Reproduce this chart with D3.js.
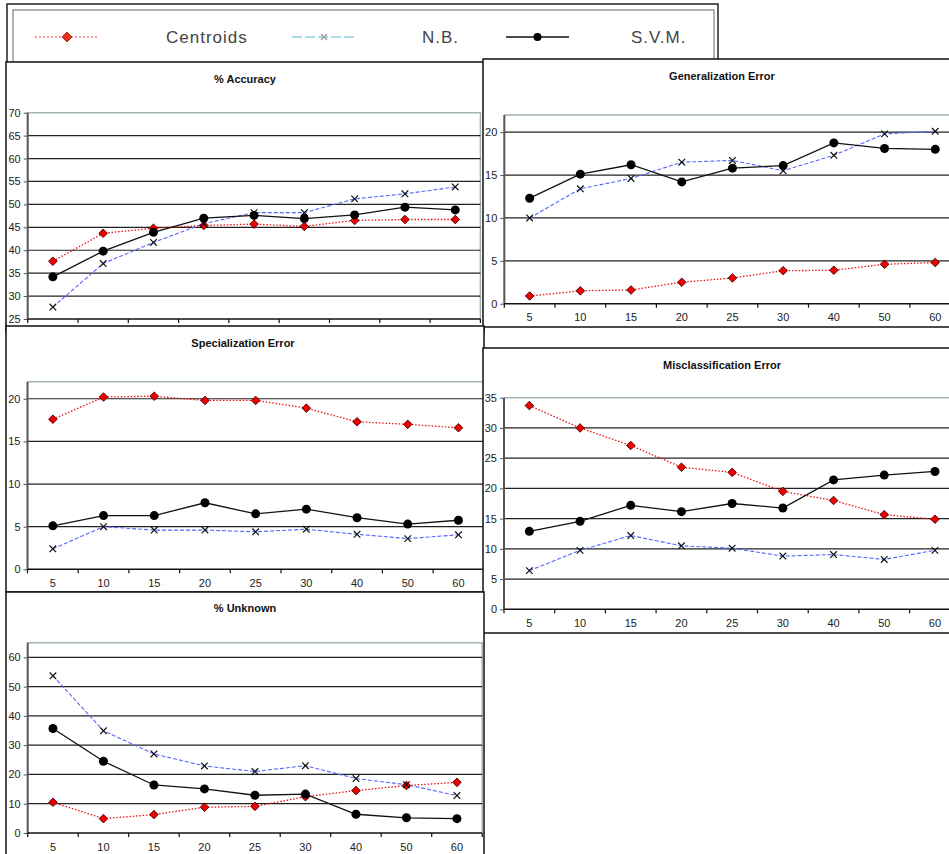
<!DOCTYPE html>
<html>
<head>
<meta charset="utf-8">
<script src="https://cdn.jsdelivr.net/npm/d3@7"></script>
<style>
body { margin: 0; background: #fff; }
svg { display: block; font-family: "Liberation Sans", Arial, sans-serif; }
</style>
</head>
<body>
<div id="chart"></div>
<script>
// categories along the x axis (same for every panel)
var categories = ["5", "10", "15", "20", "25", "30", "40", "50", "60"];
var seriesNames = ["Centroids", "N.B.", "S.V.M."];

// % Accuracy
var accuracyCentroids = [37.6, 43.7, 44.8, 45.4, 45.7, 45.2, 46.5, 46.7, 46.7];
var accuracyNB        = [27.6, 37.1, 41.7, 45.8, 48.2, 48.2, 51.2, 52.3, 53.8];
var accuracySVM       = [34.2, 39.8, 43.9, 47.0, 47.6, 46.9, 47.7, 49.4, 48.8];
var accuracyTicks     = [25, 30, 35, 40, 45, 50, 55, 60, 65, 70];

// Generalization Error
var generalCentroids = [0.9, 1.5, 1.6, 2.5, 3.0, 3.85, 3.9, 4.6, 4.8];
var generalNB        = [10.0, 13.4, 14.6, 16.5, 16.7, 15.5, 17.3, 19.8, 20.1];
var generalSVM       = [12.3, 15.1, 16.2, 14.2, 15.8, 16.1, 18.75, 18.1, 18.0];
var generalTicks     = [0, 5, 10, 15, 20];

// Specialization Error
var specialCentroids = [17.6, 20.2, 20.3, 19.8, 19.8, 18.9, 17.3, 17.0, 16.6];
var specialNB        = [2.4, 5.0, 4.6, 4.6, 4.4, 4.7, 4.1, 3.6, 4.05];
var specialSVM       = [5.1, 6.3, 6.3, 7.8, 6.5, 7.05, 6.05, 5.3, 5.75];
var specialTicks     = [0, 5, 10, 15, 20];

// Misclassification Error
var misclassCentroids = [33.7, 30.0, 27.1, 23.5, 22.65, 19.5, 18.0, 15.65, 14.9];
var misclassNB        = [6.4, 9.75, 12.2, 10.5, 10.1, 8.8, 9.05, 8.25, 9.75];
var misclassSVM       = [12.9, 14.55, 17.2, 16.15, 17.5, 16.75, 21.4, 22.2, 22.8];
var misclassTicks     = [0, 5, 10, 15, 20, 25, 30, 35];

// % Unknown
var unknownCentroids = [10.5, 4.9, 6.3, 8.8, 9.1, 12.4, 14.5, 16.2, 17.3];
var unknownNB        = [53.7, 34.9, 27.0, 22.9, 21.0, 23.0, 18.6, 16.5, 12.8];
var unknownSVM       = [35.7, 24.5, 16.4, 15.05, 12.9, 13.3, 6.4, 5.2, 4.9];
var unknownTicks     = [0, 10, 20, 30, 40, 50, 60];

var svg = d3.select("#chart")
.append("svg")
.attr("width", 949)
.attr("height", 854);

function diamond(g, cx, cy, s, fill, stroke) {
    g.append("path")
    .attr("d", "M" + cx + "," + (cy - s) + "L" + (cx + s) + "," + cy + "L" + cx + "," + (cy + s) + "L" + (cx - s) + "," + cy + "Z")
    .attr("fill", fill)
    .attr("stroke", stroke)
    .attr("stroke-width", 0.9);
}

function cross(g, cx, cy, s, stroke) {
    g.append("path")
    .attr("d", "M" + (cx - s) + "," + (cy - s) + "L" + (cx + s) + "," + (cy + s) + "M" + (cx - s) + "," + (cy + s) + "L" + (cx + s) + "," + (cy - s))
    .attr("stroke", stroke)
    .attr("stroke-width", 1.2)
    .attr("fill", "none");
}

// ---- legend ----
var leg = svg.append("g");
leg.append("rect").attr("x", 7).attr("y", 4).attr("width", 711).attr("height", 80)
.attr("fill", "#fff").attr("stroke", "#222").attr("stroke-width", 1.5);
leg.append("rect").attr("x", 13).attr("y", 10).attr("width", 701).attr("height", 70)
.attr("fill", "none").attr("stroke", "#666").attr("stroke-width", 1);

var legendItems = [
    {x1: 35, x2: 99, text: 166},
    {x1: 292, x2: 356, text: 422},
    {x1: 506, x2: 569, text: 631}
];
legendItems.forEach(function(it, i) {
    var cx = (it.x1 + it.x2) / 2;
    var line = leg.append("line").attr("x1", it.x1).attr("x2", it.x2).attr("y1", 37).attr("y2", 37);
    if (i == 0) {
        line.attr("stroke", "#f08080").attr("stroke-width", 1.5).attr("stroke-dasharray", "2,2");
        diamond(leg, cx, 37, 5, "#e83020", "#a02010");
    } else if (i == 1) {
        line.attr("stroke", "#8fd0e0").attr("stroke-width", 1.5).attr("stroke-dasharray", "10,3");
        cross(leg, cx, 37, 3, "#999");
    } else {
        line.attr("stroke", "#111").attr("stroke-width", 1.5);
        leg.append("circle").attr("cx", cx).attr("cy", 37).attr("r", 4).attr("fill", "#000");
    }
    leg.append("text").attr("x", it.text).attr("y", 43)
    .attr("font-size", 17).attr("fill", "#444").attr("letter-spacing", 1)
    .text(seriesNames[i]);
});

// ---- panels ----
function panel(p) {
    var g = svg.append("g");
    g.append("rect")
    .attr("x", p.fx).attr("y", p.fy).attr("width", p.fw).attr("height", p.fh)
    .attr("fill", "#fff").attr("stroke", "#111").attr("stroke-width", 1.5);

    g.append("text")
    .attr("x", p.tx).attr("y", p.ty + 4)
    .attr("text-anchor", "middle")
    .attr("font-weight", "bold")
    .attr("font-size", 11)
    .attr("fill", "#111")
    .text(p.title);

    var x = d3.scaleBand().domain(categories).range([p.left, p.left + categories.length * p.bw]);
    var y = d3.scaleLinear().domain(p.domain).range([p.bottom, p.top]);
    var right = x.range()[1];

    // plot area border (top/right, light)
    g.append("path")
    .attr("d", "M" + p.left + "," + p.top + "H" + right + "V" + p.bottom)
    .attr("fill", "none").attr("stroke", "#a3b3b3").attr("stroke-width", 1.5);

    // gridlines
    g.selectAll(".grid")
    .data(p.ticks.filter(function(t) { return y(t) > p.top + 1 && y(t) < p.bottom - 1; }))
    .enter()
    .append("line")
    .attr("x1", p.left).attr("x2", right)
    .attr("y1", function(t) { return y(t); })
    .attr("y2", function(t) { return y(t); })
    .attr("stroke", "#222").attr("stroke-width", 1.2);

    // y axis
    var ya = g.append("g")
    .attr("transform", "translate(" + p.left + ",0)")
    .call(d3.axisLeft(y).tickValues(p.ticks).tickSize(4).tickPadding(3));
    ya.select(".domain").attr("stroke", "#555").attr("stroke-width", 2)
    .attr("d", "M0," + p.top + "V" + p.bottom);
    ya.selectAll(".tick line").attr("stroke", "#555");
    ya.selectAll("text").attr("font-size", 11).attr("fill", "#222")
    .attr("font-family", "'Liberation Sans', Arial, sans-serif");

    // x axis
    var xa = g.append("g")
    .attr("transform", "translate(0," + p.bottom + ")")
    .call(d3.axisBottom(x).tickSize(0).tickPadding(10));
    xa.select(".domain").attr("stroke", "#111").attr("stroke-width", 1.5)
    .attr("d", "M" + p.left + ",0H" + right);
    xa.selectAll("text").attr("font-size", 11).attr("fill", "#222")
    .attr("font-family", "'Liberation Sans', Arial, sans-serif");
    var bounds = categories.map(function(c) { return x(c); }).concat([right]);
    xa.selectAll(".bt")
    .data(bounds)
    .enter()
    .append("line")
    .attr("x1", function(d) { return d; }).attr("x2", function(d) { return d; })
    .attr("y1", 0).attr("y2", 4)
    .attr("stroke", "#111").attr("stroke-width", 1.2);

    var cx = function(i) { return x(categories[i]) + x.bandwidth() / 2; };
    var lineGen = d3.line()
    .x(function(d, i) { return cx(i); })
    .y(function(d) { return y(d); });

    // Centroids
    g.append("path").datum(p.series[0]).attr("d", lineGen)
    .attr("fill", "none").attr("stroke", "#ee1111").attr("stroke-width", 1.3)
    .attr("stroke-dasharray", "1.5,1.8");
    // N.B.
    g.append("path").datum(p.series[1]).attr("d", lineGen)
    .attr("fill", "none").attr("stroke", "#5566ff").attr("stroke-width", 1.1)
    .attr("stroke-dasharray", "4,2");
    // S.V.M.
    g.append("path").datum(p.series[2]).attr("d", lineGen)
    .attr("fill", "none").attr("stroke", "#111").attr("stroke-width", 1.3);

    p.series[0].forEach(function(v, i) { diamond(g, cx(i), y(v), 4.3, "#ee0000", "#400"); });
    p.series[1].forEach(function(v, i) { cross(g, cx(i), y(v), 3.3, "#111"); });
    p.series[2].forEach(function(v, i) {
        g.append("circle").attr("cx", cx(i)).attr("cy", y(v)).attr("r", 4.5).attr("fill", "#000");
    });
}

panel({title: "% Accuracy", fx: 6, fy: 62, fw: 478, fh: 270, tx: 245, ty: 79,
    left: 27.7, bw: 50.3, top: 112.7, bottom: 319, domain: [25, 70], ticks: accuracyTicks,
    series: [accuracyCentroids, accuracyNB, accuracySVM]});
panel({title: "Generalization Error", fx: 483, fy: 59, fw: 500, fh: 268, tx: 722, ty: 76,
    left: 504.3, bw: 50.7, top: 115, bottom: 303.7, domain: [0, 22], ticks: generalTicks,
    series: [generalCentroids, generalNB, generalSVM]});
panel({title: "Specialization Error", fx: 6, fy: 326, fw: 478, fh: 266, tx: 243, ty: 343,
    left: 27.5, bw: 50.7, top: 381.7, bottom: 569.3, domain: [0, 22], ticks: specialTicks,
    series: [specialCentroids, specialNB, specialSVM]});
panel({title: "Misclassification Error", fx: 483, fy: 348, fw: 500, fh: 285, tx: 722, ty: 365,
    left: 504, bw: 50.7, top: 397.7, bottom: 609.3, domain: [0, 35], ticks: misclassTicks,
    series: [misclassCentroids, misclassNB, misclassSVM]});
panel({title: "% Unknown", fx: 6, fy: 592, fw: 478, fh: 300, tx: 245, ty: 608,
    left: 27.7, bw: 50.5, top: 642.7, bottom: 833, domain: [0, 65], ticks: unknownTicks,
    series: [unknownCentroids, unknownNB, unknownSVM]});
</script>
</body>
</html>
